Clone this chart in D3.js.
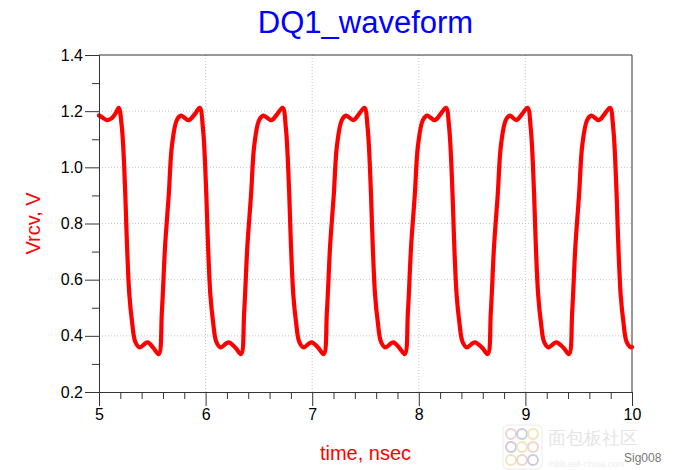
<!DOCTYPE html>
<html>
<head>
<meta charset="utf-8">
<script src="https://cdn.jsdelivr.net/npm/d3@7"></script>
<style>
  html, body { margin: 0; padding: 0; background: #fff; }
  svg { display: block; }
  text { font-family: Arial, "Liberation Sans", sans-serif; }
</style>
</head>
<body>
<svg id="chart" width="675" height="470"></svg>
<script>
// ---- Data ----
const chartTitle = "DQ1_waveform";
const xLabel = "time, nsec";
const yLabel = "Vrcv, V";
const xTicks = [5, 6, 7, 8, 9, 10];
const yTicks = [0.2, 0.4, 0.6, 0.8, 1.0, 1.2, 1.4];
const xMinorTicks = [5.2,5.4,5.6,5.8,6.2,6.4,6.6,6.8,7.2,7.4,7.6,7.8,8.2,8.4,8.6,8.8,9.2,9.4,9.6,9.8];
const yMinorTicks = [0.3, 0.5, 0.7, 0.9, 1.1, 1.3];

// time (ns)
const timeNs = [
  5.00, 5.03, 5.075, 5.12, 5.16, 5.185,
  5.215, 5.247, 5.263, 5.285, 5.31, 5.34, 5.38, 5.455, 5.51, 5.56,
  5.59, 5.62, 5.654, 5.685, 5.73, 5.77, 5.84, 5.90, 5.945,
  5.975, 6.007, 6.023, 6.045, 6.07, 6.10, 6.14, 6.215, 6.282, 6.332,
  6.362, 6.392, 6.426, 6.457, 6.502, 6.542, 6.618, 6.673, 6.723,
  6.753, 6.785, 6.801, 6.823, 6.848, 6.878, 6.918, 6.993, 7.058, 7.108,
  7.138, 7.168, 7.202, 7.233, 7.278, 7.318, 7.385, 7.44, 7.49,
  7.52, 7.552, 7.568, 7.59, 7.615, 7.645, 7.685, 7.76, 7.818, 7.868,
  7.898, 7.928, 7.962, 7.993, 8.038, 8.078, 8.15, 8.205, 8.255,
  8.285, 8.317, 8.333, 8.355, 8.38, 8.41, 8.45, 8.525, 8.596, 8.646,
  8.676, 8.706, 8.74, 8.771, 8.816, 8.856, 8.915, 8.97, 9.02,
  9.05, 9.082, 9.098, 9.12, 9.145, 9.175, 9.215, 9.29, 9.359, 9.409,
  9.439, 9.469, 9.503, 9.534, 9.579, 9.619, 9.689, 9.744, 9.794,
  9.824, 9.856, 9.872, 9.894, 9.919, 9.949, 9.989, 10.0
];
// Vrcv (V)
const vrcv = [
  1.185, 1.178, 1.168, 1.175, 1.195, 1.212,
  1.14, 0.90, 0.72, 0.545, 0.45, 0.379, 0.359, 0.377, 0.357, 0.335,
  0.486, 0.72, 0.90, 1.08, 1.168, 1.184, 1.168, 1.19, 1.212,
  1.14, 0.90, 0.72, 0.545, 0.45, 0.379, 0.359, 0.377, 0.357, 0.335,
  0.486, 0.72, 0.90, 1.08, 1.168, 1.184, 1.168, 1.19, 1.212,
  1.14, 0.90, 0.72, 0.545, 0.45, 0.379, 0.359, 0.377, 0.357, 0.335,
  0.486, 0.72, 0.90, 1.08, 1.168, 1.184, 1.168, 1.19, 1.212,
  1.14, 0.90, 0.72, 0.545, 0.45, 0.379, 0.359, 0.377, 0.357, 0.335,
  0.486, 0.72, 0.90, 1.08, 1.168, 1.184, 1.168, 1.19, 1.212,
  1.14, 0.90, 0.72, 0.545, 0.45, 0.379, 0.359, 0.377, 0.357, 0.335,
  0.486, 0.72, 0.90, 1.08, 1.168, 1.184, 1.168, 1.19, 1.212,
  1.14, 0.90, 0.72, 0.545, 0.45, 0.379, 0.359, 0.377, 0.357, 0.335,
  0.486, 0.72, 0.90, 1.08, 1.168, 1.184, 1.168, 1.19, 1.212,
  1.14, 0.90, 0.72, 0.545, 0.45, 0.379, 0.359, 0.36
];

// ---- Layout ----
const W = 675, H = 470;
const plot = { left: 99, right: 632, top: 55, bottom: 392 };
const svg = d3.select("#chart");

const x = d3.scaleLinear().domain([5, 10]).range([plot.left, plot.right]);
const y = d3.scaleLinear().domain([0.2, 1.4]).range([plot.bottom, plot.top]);

const axisColor = "#333";

// gridlines
const grid = svg.append("g");
grid.selectAll("line.gx").data(xTicks.slice(1, -1)).join("line")
  .attr("x1", d => x(d)).attr("x2", d => x(d))
  .attr("y1", plot.top).attr("y2", plot.bottom)
  .attr("stroke", "#c4c4c4").attr("stroke-width", 1).attr("stroke-dasharray", "1,2");
grid.selectAll("line.gy").data(yTicks.slice(1, -1)).join("line")
  .attr("x1", plot.left).attr("x2", plot.right)
  .attr("y1", d => y(d)).attr("y2", d => y(d))
  .attr("stroke", "#c4c4c4").attr("stroke-width", 1).attr("stroke-dasharray", "1,2");

// border (top & right)
svg.append("line").attr("x1", plot.left).attr("x2", plot.right)
  .attr("y1", plot.top).attr("y2", plot.top).attr("stroke", axisColor);
svg.append("line").attr("x1", plot.right).attr("x2", plot.right)
  .attr("y1", plot.top).attr("y2", plot.bottom).attr("stroke", axisColor);

// waveform
const line = d3.line().x((d, i) => x(timeNs[i])).y(d => y(d)).curve(d3.curveCatmullRom.alpha(0.5));
svg.append("path").datum(vrcv)
  .attr("d", line)
  .attr("fill", "none").attr("stroke", "#ff0000").attr("stroke-width", 4.2)
  .attr("stroke-linejoin", "round").attr("stroke-linecap", "round");

// axes
function styleAxis(g) {
  g.select(".domain").attr("stroke", axisColor);
  g.selectAll(".tick line").attr("stroke", axisColor);
  g.selectAll(".tick text").attr("fill", "#000").attr("font-size", 16)
    .attr("font-family", "Arial, 'Liberation Sans', sans-serif");
}
const yAxis = svg.append("g").attr("transform", `translate(${plot.left},0)`)
  .call(d3.axisLeft(y).tickValues(yTicks).tickFormat(d3.format(".1f"))
    .tickSizeInner(14).tickSizeOuter(0).tickPadding(2));
styleAxis(yAxis);
const yMinor = svg.append("g").attr("transform", `translate(${plot.left},0)`)
  .call(d3.axisLeft(y).tickValues(yMinorTicks).tickFormat("").tickSizeInner(7).tickSizeOuter(0));
styleAxis(yMinor);

const xAxis = svg.append("g").attr("transform", `translate(0,${plot.bottom})`)
  .call(d3.axisBottom(x).tickValues(xTicks).tickFormat(d3.format("d"))
    .tickSizeInner(14).tickSizeOuter(0).tickPadding(3));
styleAxis(xAxis);
const xMinor = svg.append("g").attr("transform", `translate(0,${plot.bottom})`)
  .call(d3.axisBottom(x).tickValues(xMinorTicks).tickFormat("").tickSizeInner(7).tickSizeOuter(0));
styleAxis(xMinor);

// title & labels
svg.append("text").attr("x", (plot.left + plot.right) / 2).attr("y", 33)
  .attr("text-anchor", "middle").attr("fill", "#0000ff").attr("font-size", 31)
  .text(chartTitle);
svg.append("text").attr("x", (plot.left + plot.right) / 2).attr("y", 460)
  .attr("text-anchor", "middle").attr("fill", "#ff0000").attr("font-size", 20)
  .text(xLabel);
svg.append("text").attr("transform", `translate(40,${(plot.top + plot.bottom) / 2}) rotate(-90)`)
  .attr("text-anchor", "middle").attr("fill", "#ff0000").attr("font-size", 20)
  .text(yLabel);

// watermark (faint)
const wm = svg.append("g").attr("opacity", 0.55);
wm.append("rect").attr("x", 503).attr("y", 425).attr("width", 39).attr("height", 44)
  .attr("rx", 5).attr("fill", "#fff").attr("stroke", "#ddd");
const arcCols = ["#e8b0a0", "#a0a0c8", "#e8d080"];
for (let r = 0; r < 3; r++) {
  for (let c = 0; c < 3; c++) {
    wm.append("circle").attr("cx", 511 + c * 11).attr("cy", 434 + r * 13).attr("r", 5)
      .attr("fill", "none").attr("stroke", arcCols[(r + c) % 3]).attr("stroke-width", 2);
  }
}
wm.append("text").attr("x", 548).attr("y", 444).attr("fill", "#d0d0d0")
  .attr("font-size", 18).attr("font-family", "'Noto Sans CJK SC', sans-serif").text("面包板社区");
wm.append("text").attr("x", 548).attr("y", 467).attr("fill", "#e0e0e0")
  .attr("font-size", 9).text("mbb.eet-china.com");
svg.append("text").attr("x", 624).attr("y", 462).attr("fill", "#777")
  .attr("font-size", 12).text("Sig008");
</script>
</body>
</html>
